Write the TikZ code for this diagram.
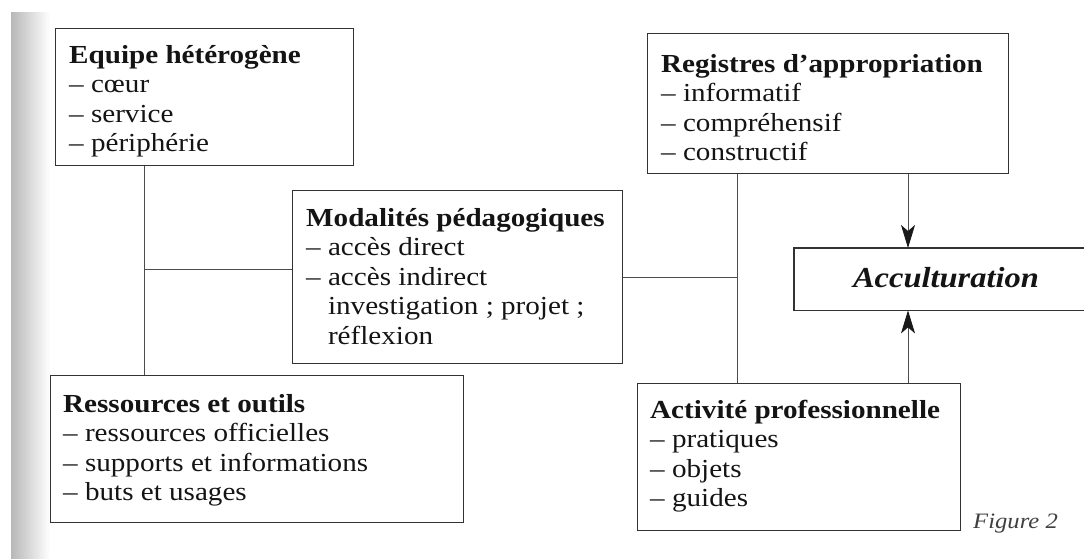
\documentclass[tikz,border=0pt]{standalone}
\usepackage{fontspec}
\setmainfont{Liberation Serif}[FakeStretch=1.12]
\usetikzlibrary{arrows.meta}

\tikzset{
  frame/.style={draw=black!80, line width=1.2pt, inner sep=0pt, anchor=north west},
  label/.style={anchor=base west, inner sep=0pt, text=black!92},
  link/.style={draw=black!70, line width=0.8pt},
  arr/.style={link, -{Stealth[length=23pt, width=14pt, inset=6pt, color=black!90]}},
}

\begin{document}
\begin{tikzpicture}[x=1pt, y=-1pt, font=\fontsize{26}{29.5}\selectfont]
\useasboundingbox (0,0) rectangle (1084,558);

% shadow of the page fold on the left
\shade[left color=black!28, right color=white] (11,12) rectangle (50,558);

% frames
\node[frame, minimum width=298pt, minimum height=137pt] (equipe) at (55,28) {};
\node[frame, minimum width=330pt, minimum height=173pt] (modal)  at (292,190) {};
\node[frame, minimum width=361pt, minimum height=140pt] (regis)  at (647,33) {};
\node[frame, minimum width=413pt, minimum height=147pt] (ress)   at (50,375) {};
\node[frame, minimum width=323pt, minimum height=147pt] (activ)  at (637,383) {};
\node[inner sep=0pt, anchor=north west, minimum width=300pt, minimum height=62pt] (accult) at (794,248) {};
\draw[draw=black!80, line width=1.2pt] (accult.north east) -- (accult.north west)
  -- (accult.south west) -- (accult.south east);

% texts
\node[label] (equipeT) at (69,63) {\vtop{%
  \hbox{\bfseries Equipe hétérogène}
  \hbox{\textendash\ cœur}
  \hbox{\textendash\ service}
  \hbox{\textendash\ périphérie}}};

\node[label] (modalT) at (306,226) {\vtop{%
  \hbox{\bfseries Modalités pédagogiques}
  \hbox{\textendash\ accès direct}
  \hbox{\textendash\ accès indirect}
  \hbox{\phantom{\textendash\ }investigation ; projet ;}
  \hbox{\phantom{\textendash\ }réflexion}}};

\node[label] (regisT) at (661,72) {\vtop{%
  \hbox{\bfseries Registres d’appropriation}
  \hbox{\textendash\ informatif}
  \hbox{\textendash\ compréhensif}
  \hbox{\textendash\ constructif}}};

\node[label] (ressT) at (63,412) {\vtop{%
  \hbox{\bfseries Ressources et outils}
  \hbox{\textendash\ ressources officielles}
  \hbox{\textendash\ supports et informations}
  \hbox{\textendash\ buts et usages}}};

\node[label] (activT) at (650,418) {\vtop{%
  \hbox{\bfseries Activité professionnelle}
  \hbox{\textendash\ pratiques}
  \hbox{\textendash\ objets}
  \hbox{\textendash\ guides}}};

\node[anchor=base, inner sep=0pt, text=black!92, font=\fontsize{29}{32}\selectfont\bfseries\itshape]
  (accultT) at (946,287) {Acculturation};

\node[anchor=base west, inner sep=0pt, text=black!75, font=\fontsize{22}{24}\selectfont\itshape]
  (fig) at (973,528) {Figure 2};

% connectors
\coordinate (lj) at (144,269);
\coordinate (rj) at (737,277);
\coordinate (ax) at (908,0);

\draw[link] (lj |- equipe.south) -- (lj |- ress.north);
\draw[link] (lj) -- (lj -| modal.west);
\draw[link] (rj |- regis.south) -- (rj |- activ.north);
\draw[link] (modal.east |- rj) -- (rj);

\draw[arr] (ax |- regis.south) -- (ax |- accult.north);
\draw[arr] (ax |- activ.north) -- (ax |- accult.south);
\end{tikzpicture}
\end{document}
